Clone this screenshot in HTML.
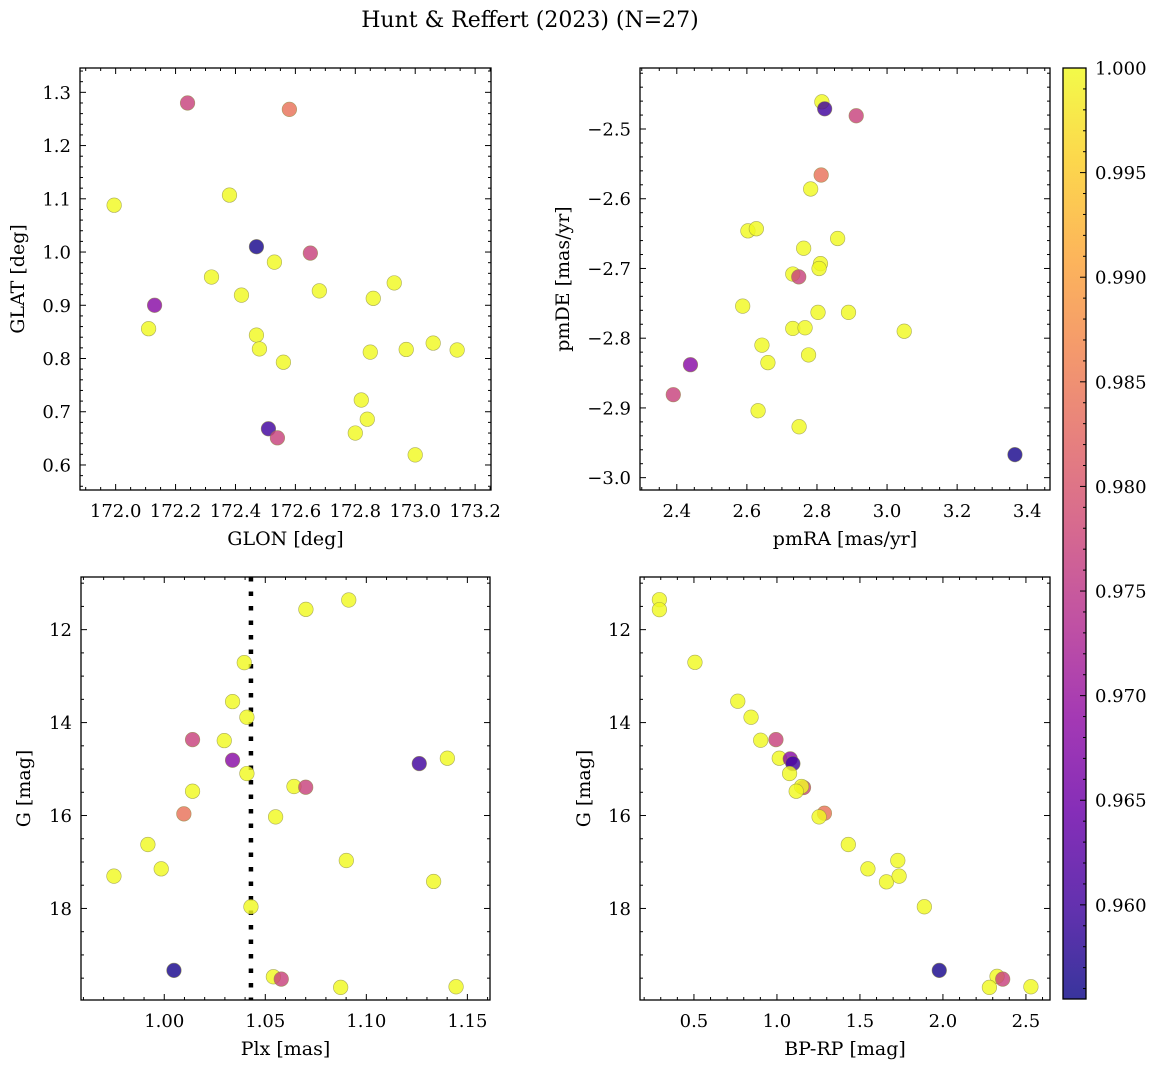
<!DOCTYPE html>
<html><head><meta charset="utf-8">
<style>
html,body{margin:0;padding:0;background:#fff;}
svg{display:block;font-family:"DejaVu Serif","Liberation Serif",serif;}
</style></head>
<body>
<svg id="fig" width="1161" height="1067" viewBox="0 0 1161 1067" xmlns="http://www.w3.org/2000/svg">
<defs>
<linearGradient id="plasmaGrad" x1="0" y1="1" x2="0" y2="0">
<stop offset="0" stop-color="#0d0887"/><stop offset="0.1" stop-color="#41049d"/>
<stop offset="0.2" stop-color="#6a00a8"/><stop offset="0.3" stop-color="#8f0da4"/>
<stop offset="0.4" stop-color="#b12a90"/><stop offset="0.5" stop-color="#cc4778"/>
<stop offset="0.6" stop-color="#e16462"/><stop offset="0.7" stop-color="#f2844b"/>
<stop offset="0.8" stop-color="#fca636"/><stop offset="0.9" stop-color="#fcce25"/>
<stop offset="1" stop-color="#f0f921"/>
</linearGradient>
</defs>
<text x="530" y="27" font-size="22" text-anchor="middle">Hunt &amp; Reffert (2023) (N=27)</text>
</svg>
<script>
// ---- data: panel 1 (GLON vs GLAT)
const glon = [171.995,172.24,172.58,172.38,172.47,172.65,172.53,172.32,172.42,172.68,172.86,172.93,172.13,172.11,172.47,172.48,172.56,172.85,172.97,173.06,173.14,172.82,172.84,172.80,173.00,172.51,172.54];
const glat = [1.088,1.280,1.268,1.107,1.010,0.998,0.981,0.953,0.919,0.927,0.913,0.942,0.900,0.856,0.844,0.818,0.793,0.812,0.817,0.829,0.816,0.722,0.686,0.660,0.619,0.668,0.651];
const probA = [1,0.977,0.984,1,0.9565,0.977,1,1,1,1,1,1,0.968,1,1,1,1,1,1,1,1,1,1,1,1,0.960,0.977];
// ---- data: panel 2 (pmRA vs pmDE)
const pmra = [2.814,2.822,2.912,2.812,2.782,2.603,2.627,2.859,2.762,2.810,2.806,2.731,2.748,2.588,2.803,2.890,3.049,2.731,2.766,2.643,2.776,2.660,2.439,2.390,2.632,2.749,3.365];
const pmde = [-2.461,-2.471,-2.481,-2.566,-2.586,-2.646,-2.643,-2.657,-2.671,-2.693,-2.700,-2.708,-2.712,-2.754,-2.763,-2.763,-2.790,-2.786,-2.785,-2.810,-2.824,-2.835,-2.838,-2.881,-2.904,-2.927,-2.967];
const probB = [1,0.960,0.977,0.984,1,1,1,1,1,1,1,1,0.977,1,1,1,1,1,1,1,1,1,0.968,0.977,1,1,0.9565];
// ---- data: panel 3 (Plx vs G)
const plx = [1.0913,1.0701,1.0396,1.0338,1.0409,1.0140,1.0297,1.0338,1.1262,1.1401,1.0409,1.0642,1.0700,1.0140,1.0097,1.0551,0.9919,0.9985,0.9751,1.0901,1.1333,1.0429,1.0048,1.0540,1.0579,1.0873,1.1444];
const gC = [11.362,11.563,12.710,13.548,13.885,14.366,14.387,14.810,14.882,14.767,15.097,15.376,15.391,15.477,15.964,16.029,16.624,17.147,17.305,16.968,17.419,17.964,19.333,19.470,19.520,19.699,19.685];
const probC = [1,1,1,1,1,0.977,1,0.968,0.960,1,1,1,0.977,1,0.984,1,1,1,1,1,1,1,0.9565,1,0.977,1,1];
const plxRef = 1.0429;
// ---- data: panel 4 (BP-RP vs G)
const bprp = [0.292,0.292,0.506,0.764,0.844,0.902,0.994,1.014,1.080,1.096,1.076,1.160,1.148,1.116,1.286,1.254,1.430,1.548,1.660,1.728,1.736,1.888,1.978,2.326,2.360,2.280,2.530];
const gD = [11.355,11.570,12.703,13.541,13.885,14.380,14.366,14.767,14.781,14.882,15.097,15.398,15.376,15.477,15.950,16.029,16.624,17.147,17.427,16.968,17.305,17.964,19.333,19.462,19.520,19.699,19.685];
const probD = [1,1,1,1,1,1,0.977,1,0.968,0.960,1,0.977,1,1,0.984,1,1,1,1,1,1,1,0.9565,1,0.977,1,1];
// ---- tick labels
const ticksA_x = [172.0,172.2,172.4,172.6,172.8,173.0,173.2];
const ticksA_y = [0.6,0.7,0.8,0.9,1.0,1.1,1.2,1.3];
const ticksB_x = [2.4,2.6,2.8,3.0,3.2,3.4];
const ticksB_y = [-3.0,-2.9,-2.8,-2.7,-2.6,-2.5];
const ticksC_x = [1.00,1.05,1.10,1.15];
const ticksG = [12,14,16,18];
const ticksD_x = [0.5,1.0,1.5,2.0,2.5];
const ticksCbar = [0.960,0.965,0.970,0.975,0.980,0.985,0.990,0.995,1.000];
const VMIN = 0.9555, VMAX = 1.0;

const NS = "http://www.w3.org/2000/svg";
const svg = document.getElementById('fig');
const FS = 20, TFS = 18;
const stops = [[13,8,135],[65,4,157],[106,0,168],[143,13,164],[177,42,144],[204,71,120],[225,100,98],[242,132,75],[252,166,54],[252,206,37],[240,249,33]];
function plasma(v){
  let t = Math.max(0, Math.min(1, (v - VMIN) / (VMAX - VMIN))) * 10;
  let i = Math.min(9, Math.floor(t)), f = t - i;
  const c = stops[i].map((a, k) => Math.round(a + (stops[i+1][k] - a) * f));
  return 'rgb(' + c.join(',') + ')';
}
function mk(tag, attrs, parent){
  const e = document.createElementNS(NS, tag);
  for (const k in attrs) e.setAttribute(k, attrs[k]);
  (parent || svg).appendChild(e);
  return e;
}
function fmt(v, d){ return v.toFixed(d).replace('-', '\u2212'); }

function panel(cfg){
  const g = mk('g', {});
  
  
  const L = cfg.box[0], T = cfg.box[1], R = cfg.box[2], B = cfg.box[3];
  const sx = v => L + (v - cfg.xr[0]) / (cfg.xr[1] - cfg.xr[0]) * (R - L);
  const sy = v => T + (cfg.yr[1] - v) / (cfg.yr[1] - cfg.yr[0]) * (B - T);
  if (cfg.vline !== undefined){
    const ln = mk('line', {x1: sx(cfg.vline), x2: sx(cfg.vline), y1: T, y2: B, stroke: '#000', 'stroke-width': 4.5, 'stroke-dasharray': '4.5 10'}, g);
    
    
  }
  for (let i = 0; i < cfg.xs.length; i++){
    const c = mk('circle', {cx: sx(cfg.xs[i]), cy: sy(cfg.ys[i]), r: 7.3, fill: plasma(cfg.p[i]), 'fill-opacity': 0.82, stroke: '#8a8a40', 'stroke-opacity': 0.7, 'stroke-width': 0.6}, g);
    
    
  }
  mk('rect', {x: L, y: T, width: R - L, height: B - T, fill: 'none', stroke: '#000', 'stroke-width': 1.3}, g);
  const minX = cfg.xminor;
  const x0 = Math.ceil(cfg.xr[0] / minX - 1e-6), x1 = Math.floor(cfg.xr[1] / minX + 1e-6);
  for (let k = x0; k <= x1; k++){
    const v = k * minX, x = sx(v);
    const major = Math.abs(Math.round(v / cfg.xmajor) * cfg.xmajor - v) < minX / 10;
    const len = major ? 6 : 3;
    mk('line', {x1: x, x2: x, y1: B, y2: B - len, stroke: '#000', 'stroke-width': 1}, g);
    mk('line', {x1: x, x2: x, y1: T, y2: T + len, stroke: '#000', 'stroke-width': 1}, g);
  }
  const ylo = Math.min(cfg.yr[0], cfg.yr[1]), yhi = Math.max(cfg.yr[0], cfg.yr[1]);
  const minY = cfg.yminor;
  const y0 = Math.ceil(ylo / minY - 1e-6), y1 = Math.floor(yhi / minY + 1e-6);
  for (let k = y0; k <= y1; k++){
    const v = k * minY, y = sy(v);
    const major = Math.abs(Math.round(v / cfg.ymajor) * cfg.ymajor - v) < minY / 10;
    const len = major ? 6 : 3;
    mk('line', {x1: L, x2: L + len, y1: y, y2: y, stroke: '#000', 'stroke-width': 1}, g);
    mk('line', {x1: R, x2: R - len, y1: y, y2: y, stroke: '#000', 'stroke-width': 1}, g);
  }
  cfg.xt.forEach(v => {
    const t = mk('text', {x: sx(v), y: B + 27, 'font-size': TFS, 'text-anchor': 'middle'}, g);
    t.textContent = fmt(v, cfg.xd);
    
    
  });
  cfg.yt.forEach(v => {
    const t = mk('text', {x: L - 9, y: sy(v) + 6.5, 'font-size': TFS, 'text-anchor': 'end'}, g);
    t.textContent = fmt(v, cfg.yd);
    
    
  });
  const xl = mk('text', {x: (L + R) / 2, y: B + 55, 'font-size': FS - 1, 'text-anchor': 'middle'}, g);
  xl.textContent = cfg.xlabel;
  
  
  const yx = cfg.ylx, yy = (T + B) / 2;
  const yl = mk('text', {x: yx, y: yy, 'font-size': FS - 1, 'text-anchor': 'middle', transform: 'rotate(-90 ' + yx + ' ' + yy + ')'}, g);
  yl.textContent = cfg.ylabel;
  
  
}

panel({name:'glon-glat-panel', box:[80,68,491,490], xr:[171.881,173.253], yr:[0.553,1.3457], xs:glon, ys:glat, p:probA,
  xt:ticksA_x, yt:ticksA_y, xmajor:0.2, xminor:0.05, ymajor:0.1, yminor:0.02, xd:1, yd:1, xlabel:'GLON [deg]', ylabel:'GLAT [deg]', ylx:24});
panel({name:'pm-panel', box:[640,68,1050,490], xr:[2.295,3.465], yr:[-3.0177,-2.4125], xs:pmra, ys:pmde, p:probB,
  xt:ticksB_x, yt:ticksB_y, xmajor:0.2, xminor:0.05, ymajor:0.1, yminor:0.02, xd:1, yd:1, xlabel:'pmRA [mas/yr]', ylabel:'pmDE [mas/yr]', ylx:569});
panel({name:'plx-g-panel', box:[81,577,490,1000], xr:[0.9588,1.1612], yr:[19.97,10.867], xs:plx, ys:gC, p:probC,
  xt:ticksC_x, yt:ticksG, xmajor:0.05, xminor:0.01, ymajor:2, yminor:0.5, xd:2, yd:0, xlabel:'Plx [mas]', ylabel:'G [mag]', ylx:30, vline:plxRef});
panel({name:'color-g-panel', box:[640,577,1050,1000], xr:[0.175,2.645], yr:[19.97,10.867], xs:bprp, ys:gD, p:probD,
  xt:ticksD_x, yt:ticksG, xmajor:0.5, xminor:0.1, ymajor:2, yminor:0.5, xd:1, yd:0, xlabel:'BP-RP [mag]', ylabel:'G [mag]', ylx:590});

const cb = mk('g', {});


const cT = 68, cB = 999, cL = 1063, cR = 1086;
mk('rect', {x: cL, y: cT, width: cR - cL, height: cB - cT, fill: 'url(#plasmaGrad)', 'fill-opacity': 0.82}, cb);
mk('rect', {x: cL, y: cT, width: cR - cL, height: cB - cT, fill: 'none', stroke: '#000', 'stroke-width': 1.3}, cb);
const cy = v => cB - (v - VMIN) / (VMAX - VMIN) * (cB - cT);
for (let k = Math.ceil(VMIN * 1000); k <= 1000; k++){
  const v = k / 1000, y = cy(v);
  const major = k % 5 === 0;
  mk('line', {x1: cR, x2: cR - (major ? 6 : 3), y1: y, y2: y, stroke: '#000', 'stroke-width': 1}, cb);
}
ticksCbar.forEach(v => {
  const t = mk('text', {x: cR + 9, y: cy(v) + 6.5, 'font-size': TFS}, cb);
  t.textContent = v.toFixed(3);
  
  
});
</script>
</body></html>
